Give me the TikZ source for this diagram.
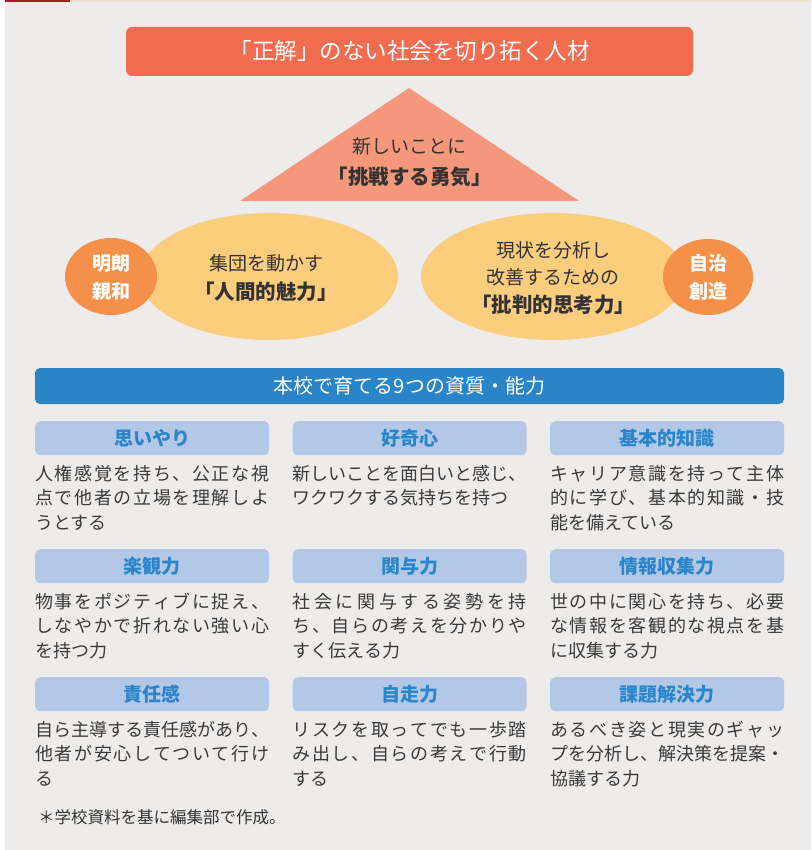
\documentclass[tikz,border=0pt]{standalone}
\usepackage{fontspec}
\setmainfont{Noto Sans CJK JP}
\usetikzlibrary{calc}
\definecolor{bgc}{HTML}{EEECEA}
\definecolor{topred}{HTML}{A51E22}
\definecolor{topbeige}{HTML}{EAE3CE}
\definecolor{bannerc}{HTML}{F26C4F}
\definecolor{tric}{HTML}{F5977A}
\definecolor{ellc}{HTML}{FDCD7E}
\definecolor{circc}{HTML}{F49049}
\definecolor{barc}{HTML}{2A84C8}
\definecolor{boxc}{HTML}{B3C8E7}
\definecolor{boxtxt}{HTML}{2A86C9}
\definecolor{darkc}{HTML}{333333}
\definecolor{bodyc}{HTML}{3A3A3A}
\def\sprA#1{\ifx\relax#1\else#1\expandafter\sprB\fi}
\def\sprB#1{\ifx\relax#1\else\hfil#1\expandafter\sprB\fi}
\newcommand\jl[1]{\hbox to 234pt{\sprA#1\relax}}
\newcommand\cell[7]{%
  \node[labbox, anchor=north west] (#1) at (#2,#3) {};
  \node[labtxt] (#1t) at (#2+117,#3+24) {#4};
  \node[bodytxt] (#1a) at (#2,#3+59.3) {#5};
  \node[bodytxt] (#1b) at (#2,#3+83.8) {#6};
  \node[bodytxt] (#1c) at (#2,#3+108.3) {#7};
}
\begin{document}
\begin{tikzpicture}[x=1pt,y=-1pt,
  labbox/.style={fill=boxc, rounded corners=5pt, minimum width=234pt, minimum height=34pt, inner sep=0pt},
  labtxt/.style={anchor=base, inner sep=0pt, text=boxtxt, font=\fontsize{19}{20}\selectfont\bfseries},
  bodytxt/.style={anchor=base west, inner sep=0pt, text=bodyc, font=\fontsize{18}{20}\selectfont},
  darktxt/.style={anchor=base, inner sep=0pt, text=darkc, font=\fontsize{19}{20}\selectfont},
  darkbold/.style={anchor=base, inner sep=0pt, text=darkc, font=\fontsize{20.5}{22}\selectfont\bfseries},
  whitebold/.style={anchor=base, inner sep=0pt, text=white, font=\fontsize{19}{20}\selectfont\bfseries},
]
\useasboundingbox (0,0) rectangle (811,850);
\fill[white] (0,0) rectangle (811,850);
\fill[bgc] (5,0) rectangle (811,850);
\fill[topred] (5,0) rectangle (70,1.6);
\fill[topbeige] (70,0) rectangle (811,1.6);
% title banner
\node[fill=bannerc, rounded corners=6pt, minimum width=567pt, minimum height=49pt, inner sep=0pt] (banner) at (409.5,51.5) {};
\node[anchor=base, inner sep=0pt, text=white, font=\fontsize{22.5}{24}\selectfont] (bannert) at (409.5,60) {「正解」のない社会を切り拓く人材};
% triangle
\fill[tric] (409,88) -- (579,201) -- (240,201) -- cycle;
\node[darktxt] (tri1) at (409.5,154) {新しいことに};
\node[darkbold] (tri2) at (409.5,184.8) {「挑戦する勇気」};
% ellipses
\fill[ellc] (269,276.5) ellipse [x radius=129, y radius=63.5];
\fill[ellc] (553,276.5) ellipse [x radius=132, y radius=63.5];
\fill[circc] (111,276.5) ellipse [x radius=46, y radius=38.5];
\fill[circc] (708,277) ellipse [x radius=45, y radius=38];
\node[darktxt] (l1) at (266,270) {集団を動かす};
\node[darkbold] (l2) at (266,299.8) {「人間的魅力」};
\node[whitebold] (lc1) at (111,270) {明朗};
\node[whitebold] (lc2) at (111,298) {親和};
\node[darktxt] (r1) at (553,257) {現状を分析し};
\node[darktxt] (r2) at (553,284) {改善するための};
\node[darkbold] (r3) at (553,312.8) {「批判的思考力」};
\node[whitebold] (rc1) at (708,270) {自治};
\node[whitebold] (rc2) at (708,298) {創造};
% blue bar
\node[fill=barc, rounded corners=5pt, minimum width=749pt, minimum height=36pt, inner sep=0pt] (bar) at (409.5,386) {};
\node[anchor=base, inner sep=0pt, text=white, font=\fontsize{20}{21}\selectfont] (bart) at (409.5,393.6) {本校で育てる9つの資質・能力};
% cells
\cell{a}{35}{421}{思いやり}{\jl{人権感覚を持ち、公正な視}}{\jl{点で他者の立場を理解しよ}}{うとする}
\cell{b}{292.5}{421}{好奇心}{\jl{新しいことを面白いと感じ、}}{ワクワクする気持ちを持つ}{}
\cell{c}{550}{421}{基本的知識}{\jl{キャリア意識を持って主体}}{\jl{的に学び、基本的知識・技}}{能を備えている}
\cell{d}{35}{549}{楽観力}{\jl{物事をポジティブに捉え、}}{\jl{しなやかで折れない強い心}}{を持つ力}
\cell{e}{292.5}{549}{関与力}{\jl{社会に関与する姿勢を持}}{\jl{ち、自らの考えを分かりや}}{すく伝える力}
\cell{f}{550}{549}{情報収集力}{\jl{世の中に関心を持ち、必要}}{\jl{な情報を客観的な視点を基}}{に収集する力}
\cell{g}{35}{677}{責任感}{\jl{自ら主導する責任感があり、}}{\jl{他者が安心してついて行け}}{る}
\cell{h}{292.5}{677}{自走力}{\jl{リスクを取ってでも一歩踏}}{\jl{み出し、自らの考えで行動}}{する}
\cell{i}{550}{677}{課題解決力}{\jl{あるべき姿と現実のギャッ}}{\jl{プを分析し、解決策を提案・}}{協議する力}
% footnote
\node[anchor=base west, inner sep=0pt, text=darkc, font=\fontsize{16.5}{18}\selectfont] (foot) at (38,823) {＊学校資料を基に編集部で作成。};
\end{tikzpicture}
\end{document}
